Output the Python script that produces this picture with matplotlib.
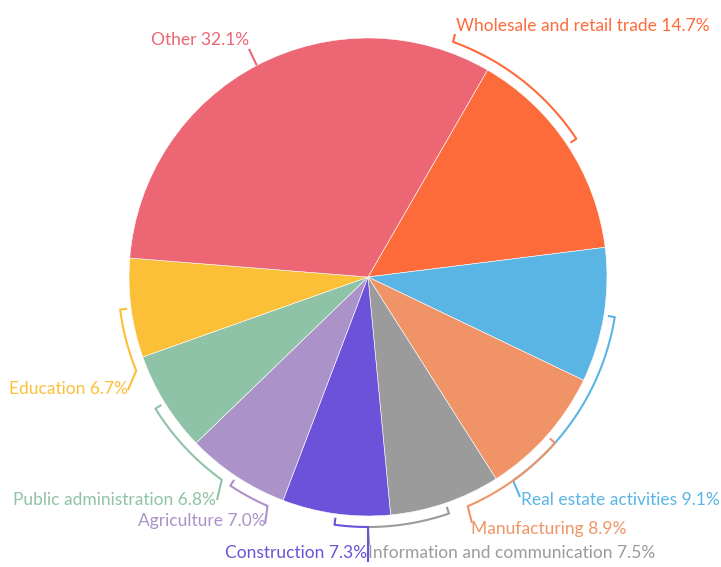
import numpy as np
import matplotlib
matplotlib.use("Agg")
import matplotlib.pyplot as plt

# data
sectors = ["Wholesale and retail trade", "Real estate activities", "Manufacturing",
           "Information and communication", "Construction", "Agriculture",
           "Public administration", "Education", "Other"]
shares = [14.7, 9.1, 8.9, 7.5, 7.3, 7.0, 6.8, 6.7, 32.1]
colors = ["#fe6b3a", "#5bb5e4", "#f09467", "#9b9b9b", "#6b52d9",
          "#ab92c8", "#8fc3a7", "#fcc038", "#ec6674"]

# layout (pixels in a 721x567 canvas): pie center / radius
W, H = 721, 567
CX, CY, R = 368, 277, 239
START = 30  # degrees clockwise from 12 o'clock

# label layout: end angle of the bracket, leader end point, text anchor, alignment
label_layout = [
    (19.9, (455, 34), (456, 26), "left"),
    (144.5, (520, 497), (521, 500), "left"),
    (156.5, (472, 523), (471, 529), "left"),
    (180.0, (369, 545), (368, 553), "left"),
    (180.0, (368, 562), (367, 553), "right"),
    (203.7, (265, 524), (266, 521), "right"),
    (215.8, (217, 500), (216, 500), "right"),
    (248.0, (128, 390), (128, 389), "right"),
    (None, (249, 49), (249, 40), "right"),
]


def px(x, y):
    return (x - CX) / R, (CY - y) / R


def polar(theta, r):
    # theta clockwise from top, degrees; r in units of pie radius
    t = np.radians(theta)
    return r * np.sin(t), r * np.cos(t)


plt.rcParams['font.family'] = ['Lato', 'DejaVu Sans']

fig = plt.figure(figsize=(W / 100, H / 100), dpi=100)
ax = fig.add_axes([0, 0, 1, 1])
ax.pie(shares, colors=colors, startangle=90 - START, counterclock=False,
       radius=1, wedgeprops=dict(edgecolor="white", linewidth=0.4))
ax.set_xlim(-CX / R, (W - CX) / R)
ax.set_ylim(-(H - CY) / R, CY / R)
ax.set_aspect("auto")
ax.axis("off")

total = sum(shares)
r_out = 250 / R
r_in = 243 / R
angle = START
for name, val, col, lay in zip(sectors, shares, colors, label_layout):
    span = val / total * 360
    mid = angle + span / 2
    angle += span
    end, lead, txt, ha = lay
    xs, ys = [], []
    if end is None:
        # no bracket, just a short leader from the slice edge
        x0, y0 = polar(mid, 1.0)
        xs.append(x0)
        ys.append(y0)
    else:
        x0, y0 = polar(mid, r_in)
        xs.append(x0)
        ys.append(y0)
        th = np.linspace(mid, end, 60)
        bx, by = polar(th, r_out)
        xs += list(bx)
        ys += list(by)
    lx, ly = px(*lead)
    xs.append(lx)
    ys.append(ly)
    ax.plot(xs, ys, color=col, lw=1.5, solid_capstyle="butt")
    tx, ty = px(*txt)
    ax.text(tx, ty, f"{name} {val:.1f}%", color=col, fontsize=12.5,
            ha=ha, va="center")

fig.savefig("out.png", dpi=100)
